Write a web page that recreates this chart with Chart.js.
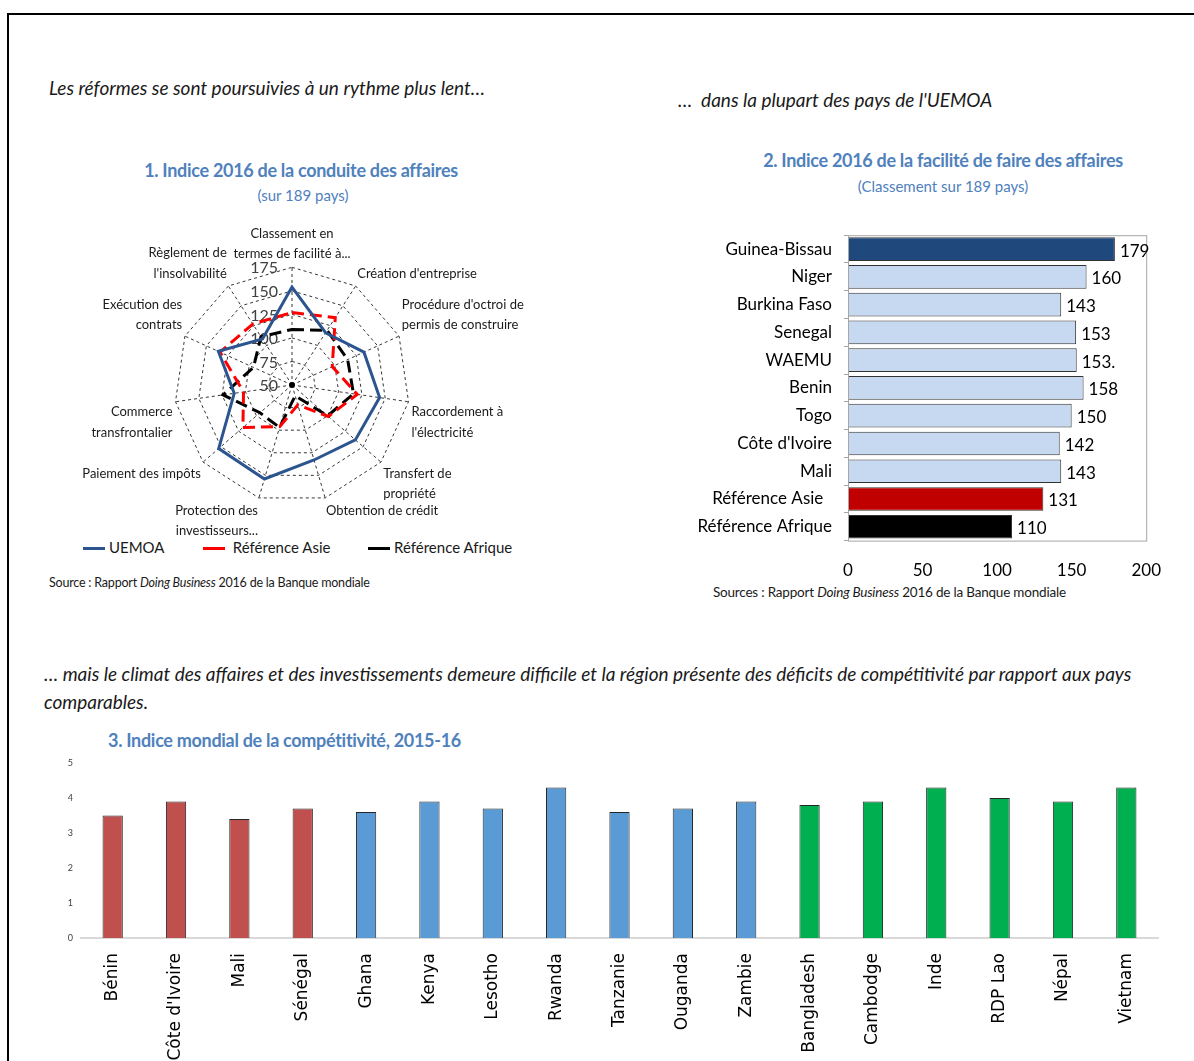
<!DOCTYPE html>
<html lang="fr">
<head>
<meta charset="utf-8">
<title>Climat des affaires UEMOA</title>
<script src="https://cdn.jsdelivr.net/npm/chart.js@4.4.1/dist/chart.umd.min.js"></script>
<style>
  html, body { margin: 0; padding: 0; background: #fff; }
  #page { position: relative; width: 1194px; height: 1061px; overflow: hidden; font-family: Lato, "Open Sans", sans-serif; color: #000; }
  #frame { position: absolute; left: 7px; top: 13px; width: 1250px; height: 1100px; border-top: 2px solid #000; border-left: 2px solid #000; }
  .txt { position: absolute; white-space: nowrap; line-height: 1.2; }
  .cap { font-style: italic; font-size: 19px; letter-spacing: 0; color: #1a1a1a; }
  .ttl { font-weight: bold; font-size: 18px; color: #4f81bd; letter-spacing: -0.3px; text-align: center; }
  .sub { font-size: 15px; color: #4f81bd; text-align: center; }
  .src { color: #1a1a1a; }
  .leg { position: absolute; font-size: 15px; color: #1a1a1a; line-height: 20px; white-space: nowrap; }
  .leg i { display: inline-block; width: 22px; height: 3px; vertical-align: middle; margin-right: 4px; position: relative; top: -1px; }
  canvas { position: absolute; }
</style>
</head>
<body>
<div id="page">
  <div id="frame"></div>

  <div class="txt cap" style="left:49px; top:77px;">Les réformes se sont poursuivies à un rythme plus lent…</div>
  <div class="txt cap" style="left:678px; top:89px;">…&nbsp; dans la plupart des pays de l'UEMOA</div>

  <div class="txt ttl" style="left:100px; width:402px; top:160px;">1. Indice 2016 de la conduite des affaires</div>
  <div class="txt sub" style="left:100px; width:406px; top:186px;">(sur 189 pays)</div>

  <div class="txt ttl" style="left:740px; width:406px; top:150px;">2. Indice 2016 de la facilité de faire des affaires</div>
  <div class="txt sub" style="left:740px; width:406px; top:177px;">(Classement sur 189 pays)</div>

  <div class="leg" style="left:83px; top:537px;"><i style="background:#2c5590"></i>UEMOA</div>
  <div class="leg" style="left:203px; top:537px;"><i style="background:#ff0000"></i>&nbsp;Référence Asie</div>
  <div class="leg" style="left:368px; top:537px;"><i style="background:#000"></i>Référence Afrique</div>

  <div class="txt src" style="left:49px; top:575px; font-size:12.5px; letter-spacing:-0.2px;">Source : Rapport <i>Doing Business</i> 2016 de la Banque mondiale</div>
  <div class="txt src" style="left:713px; top:584px; font-size:13.5px; letter-spacing:-0.2px;">Sources : Rapport <i>Doing Business</i> 2016 de la Banque mondiale</div>

  <div class="txt cap" style="left:44px; top:660px; white-space:normal; width:1110px; line-height:28px;">… mais le climat des affaires et des investissements demeure difficile et la région présente des déficits de compétitivité par rapport aux pays comparables.</div>

  <div class="txt ttl" style="left:108px; top:730px; text-align:left;">3. Indice mondial de la compétitivité, 2015-16</div>

  <canvas id="radarChart" width="584" height="323" style="left:0px; top:221px;"></canvas>
  <canvas id="rankChart" width="483" height="380" style="left:690px; top:213px;"></canvas>
  <canvas id="gciChart" width="1130" height="306" style="left:40px; top:755px;"></canvas>
</div>

<script>
// ---- chart 1 : radar (Doing Business 2016, rangs sur 189 pays)
const radarAxes = [
  ["Classement en", "termes de facilité à..."],
  "Création d'entreprise",
  ["Procédure d'octroi de", "permis de construire"],
  ["Raccordement à", "l'électricité"],
  ["Transfert de", "propriété"],
  "Obtention de crédit",
  ["Protection des", "investisseurs..."],
  "Paiement des impôts",
  ["Commerce", "transfrontalier"],
  ["Exécution des", "contrats"],
  ["Règlement de", "l'insolvabilité"],
];
const uemoaRanks = [154, 116, 134, 144, 139, 133, 154, 153, 112, 136, 108];
const asieRanks = [127, 135, 97, 120, 101, 72, 96, 119, 102, 134, 127];
const afriqueRanks = [109, 119, 115, 116, 100, 62, 97, 95, 124, 95, 111];
const radarTickValues = [50, 75, 100, 125, 150, 175];

// ---- chart 2 : classement horizontal
const countries = [
  "Guinea-Bissau", "Niger", "Burkina Faso", "Senegal", "WAEMU", "Benin",
  "Togo", "Côte d'Ivoire", "Mali", "Référence Asie  ", "Référence Afrique",
];
const countryRanks = [179, 160, 143, 153, 153.4, 158, 150, 142, 143, 131, 110];
const countryRankLabels = ["179", "160", "143", "153", "153.", "158", "150", "142", "143", "131", "110"];
const countryColors = [
  "#1f497d", "#c6d9f1", "#c6d9f1", "#c6d9f1", "#c6d9f1", "#c6d9f1",
  "#c6d9f1", "#c6d9f1", "#c6d9f1", "#c00000", "#000000",
];

// ---- chart 3 : indice mondial de la compétitivité
const gciCountries = [
  "Bénin", "Côte d'Ivoire", "Mali", "Sénégal", "Ghana", "Kenya", "Lesotho",
  "Rwanda", "Tanzanie", "Ouganda", "Zambie", "Bangladesh", "Cambodge",
  "Inde", "RDP Lao", "Népal", "Vietnam",
];
const gciScores = [3.5, 3.9, 3.4, 3.7, 3.6, 3.9, 3.7, 4.3, 3.6, 3.7, 3.9, 3.8, 3.9, 4.3, 4.0, 3.9, 4.3];
const gciGroups = [
  "uemoa", "uemoa", "uemoa", "uemoa", "afrique", "afrique", "afrique",
  "afrique", "afrique", "afrique", "afrique", "asie", "asie",
  "asie", "asie", "asie", "asie",
];
const groupColors = { uemoa: "#c0504d", afrique: "#5b9bd5", asie: "#00b050" };

Chart.defaults.font.family = "Lato, 'Open Sans', sans-serif";
Chart.defaults.color = "#1a1a1a";
Chart.defaults.animation = false;

// radar tick labels to the left of the vertical spoke, plus centre dot
const radarTicks = {
  id: "radarTicks",
  beforeDatasetsDraw(chart) {
    const s = chart.scales.r;
    const ctx = chart.ctx;
    ctx.save();
    ctx.font = "16px Lato";
    ctx.fillStyle = "#404040";
    ctx.textAlign = "right";
    ctx.textBaseline = "middle";
    radarTickValues.forEach((v) => {
      const d = s.getDistanceFromCenterForValue(v);
      ctx.fillText(String(v), s.xCenter - 14, s.yCenter - d + 1);
    });
    ctx.beginPath();
    ctx.arc(s.xCenter, s.yCenter, 3, 0, Math.PI * 2);
    ctx.fillStyle = "#000";
    ctx.fill();
    ctx.restore();
  },
};

new Chart(document.getElementById("radarChart"), {
  type: "radar",
  data: {
    labels: radarAxes,
    datasets: [
      { label: "UEMOA", data: uemoaRanks, borderColor: "#2c5590", borderWidth: 3, fill: false, pointRadius: 0 },
      { label: "Référence Asie", data: asieRanks, borderColor: "#ff0000", borderWidth: 3, borderDash: [12, 6], fill: false, pointRadius: 0 },
      { label: "Référence Afrique", data: afriqueRanks, borderColor: "#000000", borderWidth: 3, borderDash: [12, 6], fill: false, pointRadius: 0 },
    ],
  },
  options: {
    responsive: false,
    layout: { padding: 0 },
    elements: { line: { tension: 0 } },
    scales: {
      r: {
        min: 50,
        max: 175,
        ticks: { stepSize: 25, display: false },
        grid: { color: "#000", lineWidth: 0.8 },
        border: { dash: [3, 3] },
        angleLines: { color: "#000", lineWidth: 0.8, borderDash: [3, 3] },
        pointLabels: { font: { size: 13, lineHeight: 1.55 }, color: "#1a1a1a", padding: 3 },
      },
    },
    plugins: { legend: { display: false }, tooltip: { enabled: false } },
  },
  plugins: [radarTicks],
});

// frame around the plot area and value labels at the end of each bar
const rankDecor = {
  id: "rankDecor",
  afterDatasetsDraw(chart) {
    const ctx = chart.ctx;
    const a = chart.chartArea;
    ctx.save();
    ctx.strokeStyle = "#a6a6a6";
    ctx.lineWidth = 1;
    ctx.strokeRect(a.left + 0.5, a.top + 0.5, a.right - a.left, a.bottom - a.top);
    ctx.font = "17px Lato";
    ctx.fillStyle = "#000";
    ctx.textAlign = "left";
    ctx.textBaseline = "middle";
    chart.getDatasetMeta(0).data.forEach((bar, i) => {
      ctx.fillText(countryRankLabels[i], bar.x + 5, bar.y + 2);
    });
    ctx.restore();
  },
};

new Chart(document.getElementById("rankChart"), {
  type: "bar",
  data: {
    labels: countries,
    datasets: [
      {
        data: countryRanks,
        backgroundColor: countryColors,
        borderColor: "#333333",
        borderWidth: 1,
        barPercentage: 0.85,
        categoryPercentage: 1,
      },
    ],
  },
  options: {
    responsive: false,
    indexAxis: "y",
    layout: { padding: { top: 10, right: 0, bottom: 0, left: 0 } },
    scales: {
      x: {
        min: 0,
        max: 200,
        ticks: { stepSize: 50, padding: 12, font: { size: 17 }, color: "#000" },
        grid: { display: false },
        border: { display: false },
      },
      y: {
        ticks: { padding: 12, font: { size: 17 }, color: "#000" },
        grid: { display: true, drawOnChartArea: false, tickLength: 4, color: "#a6a6a6" },
        border: { display: false },
        afterFit(scale) { scale.width = 158; },
      },
    },
    plugins: { legend: { display: false }, tooltip: { enabled: false } },
  },
  plugins: [rankDecor],
});

new Chart(document.getElementById("gciChart"), {
  type: "bar",
  data: {
    labels: gciCountries,
    datasets: [
      {
        data: gciScores,
        backgroundColor: gciGroups.map((g) => groupColors[g]),
        borderColor: "#262626",
        borderWidth: 1,
        barPercentage: 0.32,
        categoryPercentage: 1,
      },
    ],
  },
  options: {
    responsive: false,
    layout: { padding: { top: 8, right: 12, bottom: 0, left: 0 } },
    scales: {
      x: {
        ticks: {
          autoSkip: false,
          maxRotation: 90,
          minRotation: 90,
          padding: 7,
          font: { family: "'DejaVu Sans', sans-serif", size: 17 },
          color: "#000",
        },
        grid: { display: false },
        border: { display: true, color: "#d9d9d9", width: 2 },
        afterFit(scale) { scale.height = 123; },
      },
      y: {
        min: 0,
        max: 5,
        ticks: { stepSize: 1, padding: 0, font: { size: 9 }, color: "#404040" },
        grid: { display: false },
        border: { display: false },
        afterFit(scale) { scale.width = 41; },
      },
    },
    plugins: { legend: { display: false }, tooltip: { enabled: false } },
  },
});
</script>
</body>
</html>
